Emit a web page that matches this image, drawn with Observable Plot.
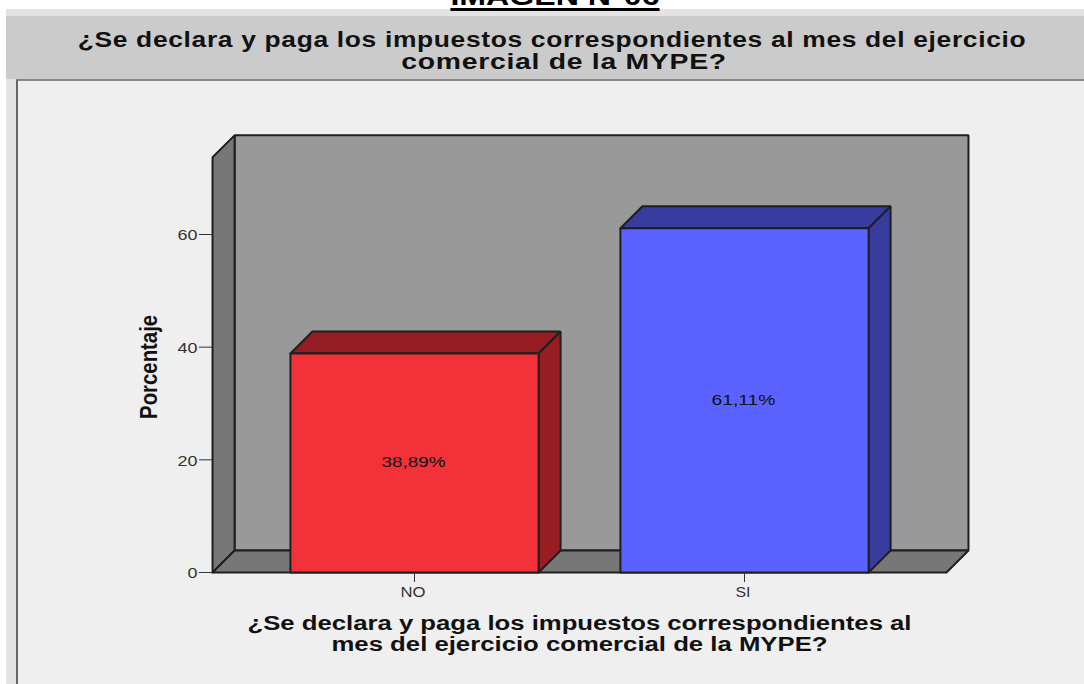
<!DOCTYPE html>
<html><head><meta charset="utf-8">
<script src="https://cdn.jsdelivr.net/npm/d3@7"></script>
<script src="https://cdn.jsdelivr.net/npm/@observablehq/plot@0.6"></script>
<style>
html,body{margin:0;padding:0;background:#fff;width:1084px;height:684px;overflow:hidden;font-family:"Liberation Sans",Arial,sans-serif}
.line{position:absolute;white-space:nowrap;font-weight:bold;transform-origin:center}
#kicker{left:554.5px;top:-19px;font-size:26px;line-height:30px;color:#000;text-decoration:underline;text-decoration-thickness:3px;text-underline-offset:3px;transform:translateX(-50%) scaleX(1.235)}
#band{position:absolute;left:6px;top:9px;right:0;height:7px;background:#e3e3e3}
#head{position:absolute;left:6px;top:16px;right:0;height:63px;background:#cbcbcb}
.title{font-size:22px;line-height:20px;letter-spacing:.55px;color:#111;transform:translateX(-50%) scaleX(1.2)}
#strip{position:absolute;left:6px;top:79px;width:10px;bottom:0;background:#e3e3e3}
#panel{position:absolute;left:16px;top:79px;right:0;bottom:0;background:#efefef;border-left:2px solid #666;border-top:2px solid #888;box-sizing:border-box}
#chart{position:absolute;left:0;top:0}
</style></head><body>
<div id="band"></div>
<div id="head"></div>
<div id="strip"></div>
<div id="panel"></div>
<div id="chart"></div>
<div class="line title" style="left:551.5px;top:30px">¿Se declara y paga los impuestos correspondientes al mes del ejercicio</div>
<div class="line title" style="left:563.5px;top:52px;transform:translateX(-50%) scaleX(1.29)">comercial de la MYPE?</div>
<div class="line" id="kicker">IMAGEN N°06</div>
<script>
const categories = ["NO", "SI"];
const percentages = [38.89, 61.11];
const percentLabels = ["38,89%", "61,11%"];
const yTicks = [0, 20, 40, 60];
const barColors = ["#f23238", "#5a62ff"];
const topColors = ["#961d22", "#383c9e"];
const yLabel = "Porcentaje";
const xLabelLines = ["¿Se declara y paga los impuestos correspondientes al", "mes del ejercicio comercial de la MYPE?"];
const xLabelWidths = [664, 496];

const halfBar = 0.376, dx = 0.0667, dy = 3.9, wallTop = 73.7, left = -0.612, right = 1.612;
const poly = (pts, fill, strokeWidth = 2, stroke = "#1f1f1f") =>
  Plot.line([...pts, pts[0]], {x: d => d[0], y: d => d[1], fill, stroke, strokeWidth, strokeLinejoin: "miter"});
const stretch = (widths) => ({
  render(index, scales, values, dims, ctx, next) {
    const g = next(index, scales, values, dims, ctx);
    g.querySelectorAll("text").forEach((t, k) => {
      t.setAttribute("textLength", widths[k]);
      t.setAttribute("lengthAdjust", "spacingAndGlyphs");
    });
    return g;
  }
});

const marks = [
  poly([[left+dx,dy],[left+dx,wallTop+dy],[right+dx,wallTop+dy],[right+dx,dy]], "#999999"),
  poly([[left,0],[left,wallTop],[left+dx,wallTop+dy],[left+dx,dy]], "#777777"),
  poly([[left,0],[left+dx,dy],[right+dx,dy],[right,0]], "#777777"),
];
percentages.forEach((v, i) => {
  const a = i - halfBar, b = i + halfBar;
  marks.push(
    poly([[a,v],[a+dx,v+dy],[b+dx,v+dy],[b,v]], topColors[i]),
    poly([[b,0],[b,v],[b+dx,v+dy],[b+dx,dy]], topColors[i]),
    poly([[a,0],[a,v],[b,v],[b,0]], barColors[i])
  );
});
marks.push(
  Plot.axisY(yTicks, {anchor: "left", x: left, tickSize: 13, tickPadding: 2, label: null, stroke: "#333", fill: "#333"}),
  Plot.axisX([0, 1], {anchor: "bottom", y: 0, tickSize: 10, tickPadding: 4, label: null, tickFormat: i => categories[i], stroke: "#333", fill: "#333"}),
  Plot.text(percentages, {x: (d,i)=>i, y: (d,i)=>[19.5,30.5][i], dx: -1, text: (d,i)=>percentLabels[i], fontSize: 15, fill: "#111", ...stretch([64, 64])}),
  Plot.text([yLabel], {x: left, y: 36.5, dx: -63, rotate: -90, text: d => d, fontSize: 24, fontWeight: "bold", fill: "#111", fontFamily: "'Liberation Sans Narrow','Liberation Sans'", ...stretch([104])}),
  Plot.text(xLabelLines, {x: 0.5, y: 0, text: d => d, fontSize: 20, fontWeight: "bold", fill: "#111",
    render(index, scales, values, dims, ctx, next) {
      const g = next(index, scales, values, dims, ctx);
      g.querySelectorAll("text").forEach((t, k) => {
        t.setAttribute("dy", String(51 + 21.5 * k));
        t.setAttribute("textLength", xLabelWidths[k]);
        t.setAttribute("lengthAdjust", "spacingAndGlyphs");
      });
      return g;
    }})
);

const chart = Plot.plot({
  width: 1084, height: 684, margin: 0,
  style: {background: "transparent", fontFamily: "Liberation Sans", fontSize: "15px"},
  x: {domain: [-1, 2], range: [84, 1074], axis: null},
  y: {domain: [0, 60], range: [572, 234], axis: null},
  marks
});
chart.querySelectorAll('[aria-label="y-axis tick label"] text').forEach(t => {
  t.setAttribute("textLength", t.textContent.length * 10);
  t.setAttribute("lengthAdjust", "spacingAndGlyphs");
  t.setAttribute("dy", "1");
});
chart.querySelectorAll('[aria-label="x-axis tick label"] text').forEach(t => {
  t.setAttribute("textLength", t.textContent === "NO" ? 25 : 15);
  t.setAttribute("lengthAdjust", "spacingAndGlyphs");
  t.setAttribute("dx", "-1.5");
});
document.getElementById("chart").append(chart);
</script></body></html>
